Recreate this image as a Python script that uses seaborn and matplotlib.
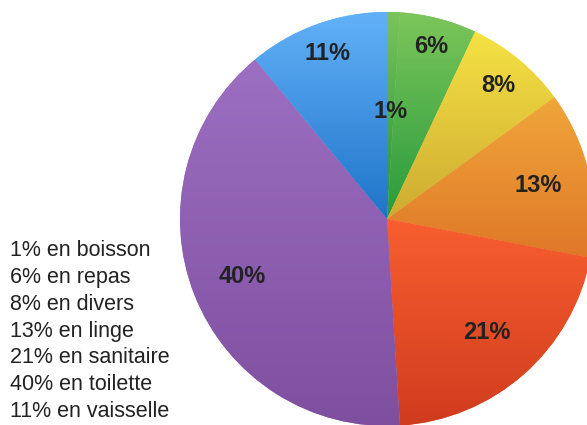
import numpy as np
import matplotlib
matplotlib.use("Agg")
from matplotlib import pyplot as plt
from matplotlib.colors import LinearSegmentedColormap
import seaborn as sns

sns.set_theme(style="white")
plt.rcParams['font.family'] = ['Liberation Sans', 'DejaVu Sans']

# donnees
categories = ['boisson', 'repas', 'divers', 'linge', 'sanitaire', 'toilette', 'vaisselle']
values = [1, 6, 8, 13, 21, 40, 11]

# couleurs (haut, bas) pour le degrade de chaque part
top_colors = ['#7ac45a', '#7cc65a', '#f6e244', '#f0a63a', '#f85e2f', '#9c6fc2', '#62b1f8']
bottom_colors = ['#1f9238', '#289a3d', '#cdab31', '#df7828', '#cf3c1e', '#7f4f9f', '#1f74c8']
label_dist = [0.52, 0.86, 0.84, 0.75, 0.73, 0.75, 0.85]

fig = plt.figure(figsize=(5.87, 4.25), dpi=100)
ax = fig.add_axes([0, 0, 1, 1])

wedges, texts, autotexts = ax.pie(
    values, startangle=90, counterclock=False, radius=1,
    colors=top_colors, autopct='%d%%', pctdistance=0.75,
    textprops=dict(fontsize=17, fontweight='heavy', color='#222222'))

# degrade vertical dans chaque part
for w, c1, c2 in zip(wedges, top_colors, bottom_colors):
    ys = w.get_path().vertices[:, 1]
    xs = w.get_path().vertices[:, 0]
    cmap = LinearSegmentedColormap.from_list('g', [c2, c1])
    grad = np.linspace(0, 1, 256).reshape(-1, 1)
    im = ax.imshow(grad, cmap=cmap, origin='lower', aspect='auto',
                   extent=[xs.min(), xs.max(), ys.min(), ys.max()], zorder=1.5)
    im.set_clip_path(w)
    w.set_edgecolor('none')

# position des etiquettes
for t, w, d in zip(autotexts, wedges, label_dist):
    a = np.deg2rad((w.theta1 + w.theta2) / 2)
    t.set_position((d * np.cos(a), d * np.sin(a)))
    t.set_zorder(3)

# echelle : centre de la tarte a (387, 219) px, rayon 207 px
r = 207
ax.set_xlim(-387 / r, (587 - 387) / r)
ax.set_ylim(-(425 - 219) / r, 219 / r)
ax.set_aspect('auto')
ax.axis('off')

# texte de legende
lines = [f'{v}% en {c}' for v, c in zip(values, categories)]
fig.text(10 / 587, 3 / 425, '\n'.join(lines), fontsize=15.5, color='#222222',
         ha='left', va='bottom', linespacing=1.36)

fig.savefig('out.png', dpi=100)
